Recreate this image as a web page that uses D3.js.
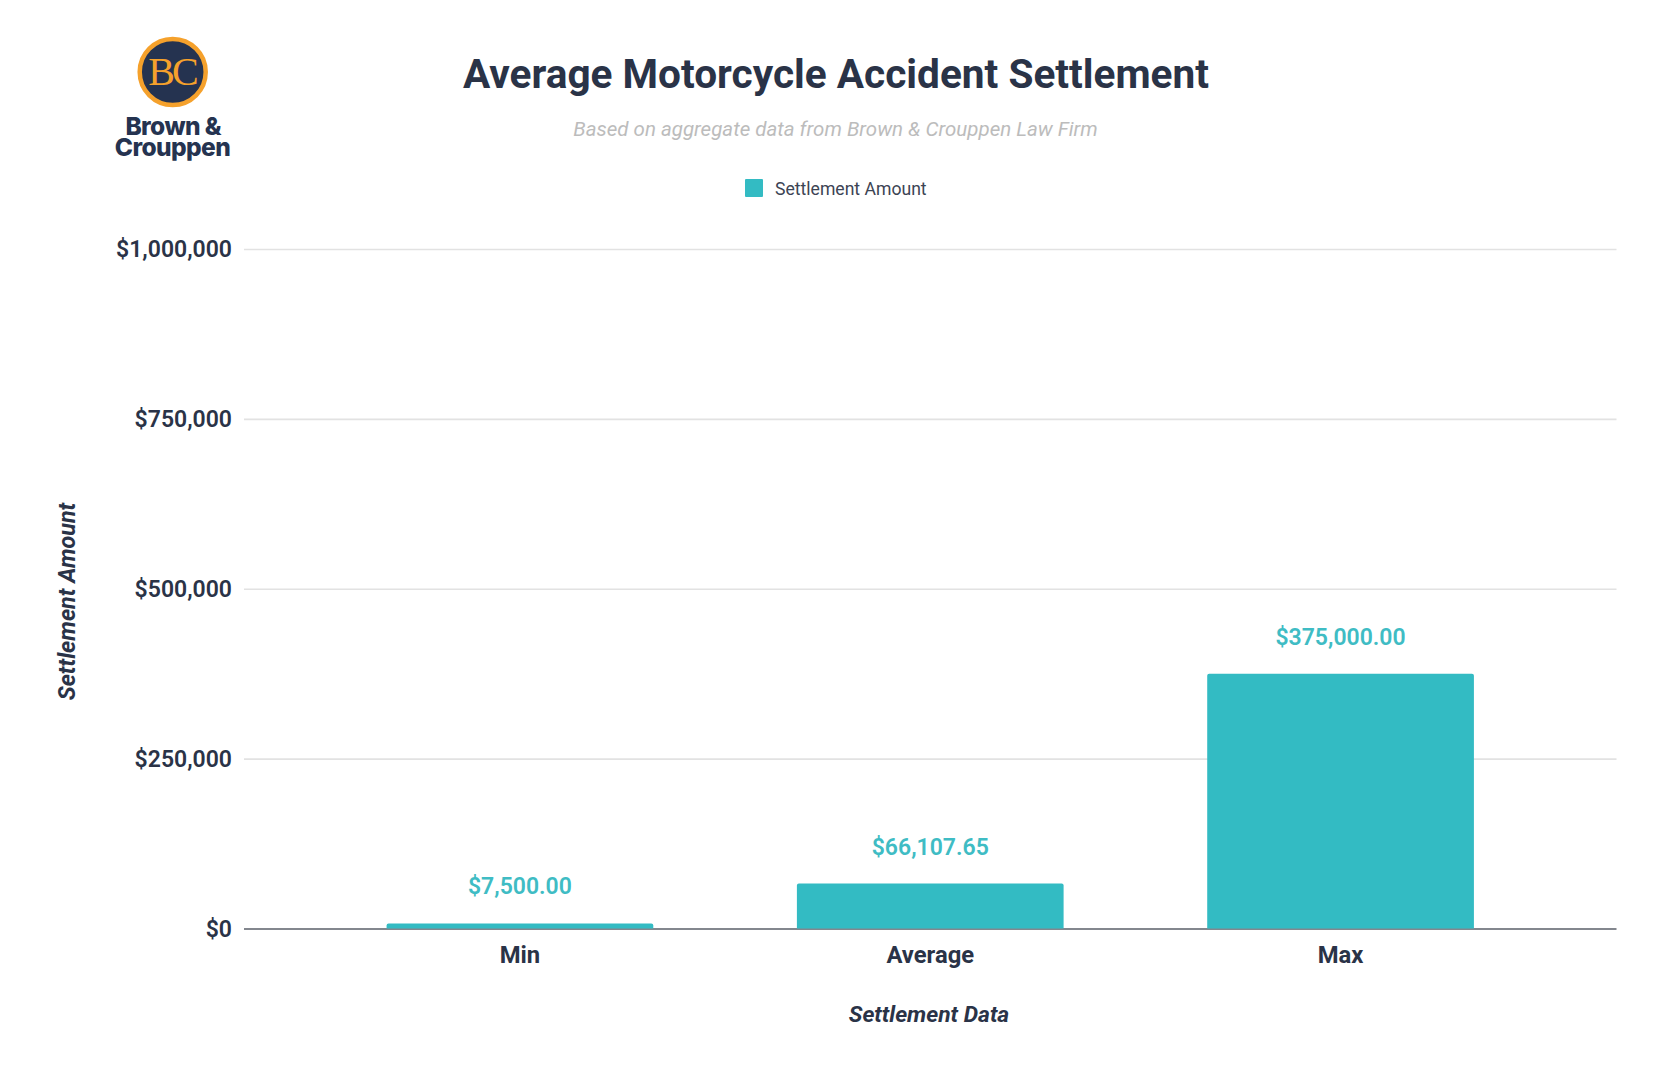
<!DOCTYPE html>
<html><head><meta charset="utf-8">
<script src="https://cdnjs.cloudflare.com/ajax/libs/d3/7.8.5/d3.min.js"></script>
<style>
html,body{margin:0;padding:0;background:#fff;overflow:hidden}
svg{display:block}
text{font-family:Roboto,sans-serif}
</style></head><body>
<svg id="c" width="1671" height="1080"></svg>
<script>
const categories = ["Min","Average","Max"];
const seriesName = "Settlement Amount";
const settlementValues = [7500, 66107.65, 375000];
const valueLabels = ["$7,500.00","$66,107.65","$375,000.00"];
const yTicks = [0,250000,500000,750000,1000000];
const titleText = "Average Motorcycle Accident Settlement";
const subtitleText = "Based on aggregate data from Brown & Crouppen Law Firm";
const xTitle = "Settlement Data";
const yTitle = "Settlement Amount";

const ink = "#2a3347", navy = "#253350", teal = "#33bbc3";
const svg = d3.select("#c");
const x = d3.scaleBand().domain(categories).range([244,1616.5]).paddingInner(0.35).paddingOuter(0.3475);
const y = d3.scaleLinear().domain([0,1000000]).range([928.5,249]);

// title
svg.append("text").attr("x",836).attr("y",88).attr("text-anchor","middle")
  .attr("font-size",40.6).attr("font-weight",700).attr("fill",ink).text(titleText);
svg.append("text").attr("x",835.5).attr("y",136).attr("text-anchor","middle")
  .attr("font-size",20.5).attr("font-style","italic").attr("fill","#bcbcbc").text(subtitleText);

// legend
svg.append("rect").attr("x",745).attr("y",179).attr("width",18).attr("height",18).attr("rx",1).attr("fill",teal);
svg.append("text").attr("x",775).attr("y",195).attr("font-size",17.6).attr("fill","#3c4454").text(seriesName);

// logo
const logo = svg.append("g");
logo.append("circle").attr("cx",172.7).attr("cy",72).attr("r",33).attr("fill",navy).attr("stroke","#f5a12c").attr("stroke-width",4.5);
logo.append("text").attr("x",172).attr("y",85).attr("text-anchor","middle").attr("font-size",40)
  .attr("letter-spacing",-3).style("font-family","'Liberation Serif',serif").attr("fill","#f5a12c").text("BC");
const brand = logo.append("text").attr("text-anchor","middle").attr("font-size",24.5)
  .attr("font-weight",800).style("font-family","Inter,sans-serif").attr("letter-spacing",-0.6).attr("fill",navy);
brand.append("tspan").attr("x",175.5).attr("y",135).text("Brown & ");
brand.append("tspan").attr("x",172.5).attr("y",156).text("Crouppen");

// y axis + grid
const yAxis = svg.append("g").attr("transform","translate(244,0)")
  .call(d3.axisLeft(y).tickValues(yTicks).tickSize(-1372.5).tickPadding(12)
    .tickFormat(d => "$" + d3.format(",")(d)));
yAxis.select(".domain").remove();
yAxis.selectAll(".tick line").attr("stroke",d => d===0 ? "#5a5f68" : "#e2e2e2").attr("stroke-width",1.6);
yAxis.selectAll(".tick text").attr("font-size",23).attr("font-weight",600).attr("fill",ink)
  .style("font-family","Roboto,sans-serif").attr("dy","0.34em");

// bars
const r = 2;
svg.append("g").selectAll("path").data(categories).join("path")
  .attr("fill",teal)
  .attr("d",(c,i) => {
    const l = x(c), w = x.bandwidth(), t = y(settlementValues[i]), b = y(0);
    const p = d3.path();
    p.moveTo(l,b); p.lineTo(l,t+r); p.quadraticCurveTo(l,t,l+r,t);
    p.lineTo(l+w-r,t); p.quadraticCurveTo(l+w,t,l+w,t+r); p.lineTo(l+w,b); p.closePath();
    return p.toString();
  });

// value labels
svg.append("g").selectAll("text").data(categories).join("text")
  .attr("x",c => x(c)+x.bandwidth()/2)
  .attr("y",(c,i) => y(settlementValues[i])-29)
  .attr("text-anchor","middle").attr("font-size",23).attr("font-weight",600).attr("fill","#3fbcc4")
  .text((c,i) => valueLabels[i]);

// x axis
const xAxis = svg.append("g").attr("transform","translate(0,928.5)")
  .call(d3.axisBottom(x).tickSize(0).tickPadding(0));
xAxis.select(".domain").remove();
xAxis.selectAll(".tick text").attr("font-size",23.8).attr("font-weight",700).attr("fill",ink)
  .style("font-family","Roboto,sans-serif").attr("y",34).attr("dy",0);

// axis titles
svg.append("text").attr("x",929).attr("y",1022).attr("text-anchor","middle")
  .attr("font-size",22.8).attr("font-weight",700).attr("font-style","italic").attr("fill",ink).text(xTitle);
svg.append("text").attr("transform","translate(75,601.5) rotate(-90)").attr("text-anchor","middle")
  .attr("font-size",23.3).attr("font-weight",700).attr("font-style","italic").attr("fill",ink).text(yTitle);
</script>
</body></html>
